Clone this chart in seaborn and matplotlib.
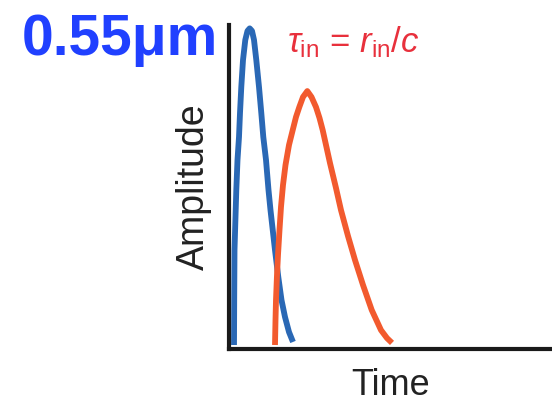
import matplotlib
matplotlib.use("Agg")
import matplotlib.pyplot as plt
import seaborn as sns
import pandas as pd

# Values (time in arbitrary units, amplitude normalised)
blue_time = [0.5, 0.52, 0.55, 0.73, 0.85, 1.0, 1.1, 1.23, 1.4, 1.63, 1.85, 2.07,
             2.3, 2.5, 2.73, 3.0, 3.23, 3.43, 3.7, 3.95, 4.15, 4.6, 4.93, 5.25,
             5.6, 6.0, 6.4]
blue_amp = [0.0125, 0.153, 0.309, 0.497, 0.591, 0.6625, 0.7375, 0.819, 0.903,
            0.966, 0.994, 1.002, 0.994, 0.966, 0.903, 0.819, 0.7375, 0.6625,
            0.591, 0.497, 0.434, 0.309, 0.225, 0.153, 0.1, 0.053, 0.022]
red_time = [4.6, 4.65, 4.7, 4.8, 4.9, 5.05, 5.2, 5.4, 5.65, 6.0, 6.37, 6.7, 7.03,
            7.4, 7.83, 8.25, 8.7, 9.05, 9.37, 10.1, 10.7, 11.2, 11.9, 12.6, 13.4,
            14.27, 15.2, 15.8, 16.3]
red_amp = [0.0125, 0.091, 0.153, 0.231, 0.294, 0.372, 0.444, 0.5125, 0.575,
           0.6375, 0.684, 0.725, 0.756, 0.7875, 0.806, 0.7875, 0.756, 0.722,
           0.684, 0.581, 0.503, 0.434, 0.353, 0.278, 0.2, 0.122, 0.059, 0.034,
           0.019]

title_text = "0.55μm"
formula_text = r"$\tau_{\mathrm{in}}$ = $r_{\mathrm{in}}$/$c$"
x_label = "Time"
y_label = "Amplitude"

sns.set_style("white")
plt.rcParams["font.family"] = ["Liberation Sans", "DejaVu Sans"]
plt.rcParams["mathtext.fontset"] = "custom"
plt.rcParams["mathtext.rm"] = "Liberation Sans"
plt.rcParams["mathtext.it"] = "Liberation Sans:italic"

df_blue = pd.DataFrame({"Time": blue_time, "Amplitude": blue_amp})
df_red = pd.DataFrame({"Time": red_time, "Amplitude": red_amp})

fig = plt.figure(figsize=(5.52, 4.04), dpi=100)
ax = fig.add_axes([229 / 552, 1 - 349 / 404, 1 - 229 / 552, (349 - 25) / 404])

sns.lineplot(data=df_blue, x="Time", y="Amplitude", sort=False, estimator=None,
             color="#2a68b5", lw=4.2, ax=ax, solid_capstyle="butt",
             solid_joinstyle="round", clip_on=False)
sns.lineplot(data=df_red, x="Time", y="Amplitude", sort=False, estimator=None,
             color="#f25a2e", lw=4.2, ax=ax, solid_capstyle="butt",
             solid_joinstyle="round", clip_on=False)

ax.set_xlim(0, 32.3)
ax.set_ylim(0, 1.0125)
ax.set_xticks([])
ax.set_yticks([])
for s in ["top", "right"]:
    ax.spines[s].set_visible(False)
for s in ["left", "bottom"]:
    ax.spines[s].set_linewidth(3.0)
    ax.spines[s].set_color("#1a1a1a")

ax.set_xlabel(x_label, fontsize=26, color="#222222", labelpad=14)
ax.set_ylabel(y_label, fontsize=27, color="#222222", labelpad=12)

fig.text(22 / 552, 1 - 55 / 404, title_text, fontsize=41, fontweight="bold",
         color="#2040ff", ha="left", va="baseline")
fig.text(287 / 552, 1 - 52 / 404, formula_text, fontsize=25, color="#e8303c",
         ha="left", va="baseline")

fig.savefig("out.png", dpi=100)
